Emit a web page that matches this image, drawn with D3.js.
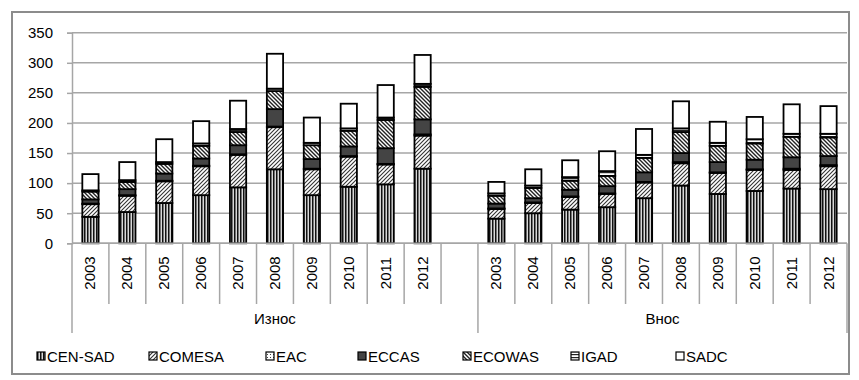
<!DOCTYPE html>
<html>
<head>
<meta charset="utf-8">
<script src="https://cdn.jsdelivr.net/npm/d3@7"></script>
<style>
body { margin: 0; background: #fff; }
text { font-family: Arial, "Liberation Sans", sans-serif; fill: #000; }
</style>
</head>
<body>
<svg width="859" height="380"></svg>
<script>
// chart values (millions)
const years = ["2003", "2004", "2005", "2006", "2007", "2008", "2009", "2010", "2011", "2012"];
const groups = ["Износ", "Внос"];
const seriesNames = ["CEN-SAD", "COMESA", "EAC", "ECCAS", "ECOWAS", "IGAD", "SADC"];

// Износ
const cenSadExp = [44, 52, 67, 80, 93, 123, 80, 94, 98, 124];
const comesaExp = [21, 27, 36, 48, 54, 70, 43, 50, 33, 55];
const eacExp    = [1, 1, 1, 1, 1, 1, 1, 1, 1, 2];
const eccasExp  = [7, 10, 12, 12, 15, 29, 16, 16, 26, 25];
const ecowasExp = [13, 12, 16, 21, 22, 30, 23, 26, 47, 54];
const igadExp   = [2, 3, 3, 4, 5, 4, 4, 4, 4, 5];
const sadcExp   = [27, 30, 38, 37, 47, 58, 42, 41, 54, 48];

// Внос
const cenSadImp = [41, 50, 56, 60, 75, 96, 82, 87, 91, 90];
const comesaImp = [16, 17, 21, 22, 26, 37, 35, 35, 31, 38];
const eacImp    = [1, 1, 1, 1, 1, 2, 1, 1, 2, 2];
const eccasImp  = [8, 7, 11, 12, 16, 15, 17, 16, 19, 15];
const ecowasImp = [13, 17, 15, 17, 24, 35, 27, 27, 34, 31];
const igadImp   = [4, 4, 6, 8, 5, 6, 5, 7, 5, 6];
const sadcImp   = [19, 27, 28, 33, 43, 45, 35, 37, 49, 46];

const yTicks = [0, 50, 100, 150, 200, 250, 300, 350];

let svg = d3.select("svg");

let expSeries = [cenSadExp, comesaExp, eacExp, eccasExp, ecowasExp, igadExp, sadcExp];
let impSeries = [cenSadImp, comesaImp, eacImp, eccasImp, ecowasImp, igadImp, sadcImp];

// rows: one per category, with a blank one closing the first group
let rows = [];
years.forEach((yr, i) => {
    let r = { key: groups[0] + "|" + yr, year: yr };
    seriesNames.forEach((s, j) => r[s] = expSeries[j][i]);
    rows.push(r);
});
rows.push({ key: groups[0] + "|", year: "" });
years.forEach((yr, i) => {
    let r = { key: groups[1] + "|" + yr, year: yr };
    seriesNames.forEach((s, j) => r[s] = impSeries[j][i]);
    rows.push(r);
});
let dataRows = rows.filter(r => r.year !== "");

let plot = { left: 72, right: 847, top: 32.7, bottom: 243.3 };

let x = d3.scaleBand()
    .domain(rows.map(r => r.key))
    .range([plot.left, plot.right])
    .padding(0);

let y = d3.scaleLinear()
    .domain([0, 350])
    .range([plot.bottom, plot.top]);

// patterns
let defs = svg.append("defs");

function pattern(id, w, h, draw) {
    let p = defs.append("pattern")
        .attr("id", id)
        .attr("patternUnits", "userSpaceOnUse")
        .attr("width", w)
        .attr("height", h);
    draw(p);
}

pattern("pCen", 3, 3, p => {
    p.append("rect").attr("width", 3).attr("height", 3).attr("fill", "#d8d8d8");
    p.append("rect").attr("width", 1.5).attr("height", 3).attr("fill", "#111");
});
pattern("pCom", 4, 4, p => {
    p.append("rect").attr("width", 4).attr("height", 4).attr("fill", "#fff");
    p.append("path").attr("d", "M-1,1 L1,-1 M0,4 L4,0 M3,5 L5,3")
        .attr("stroke", "#333").attr("stroke-width", 1.1);
});
pattern("pEac", 3, 3, p => {
    p.append("rect").attr("width", 3).attr("height", 3).attr("fill", "#fff");
    p.append("rect").attr("x", 1).attr("y", 1).attr("width", 1).attr("height", 1).attr("fill", "#444");
});
pattern("pEco", 4, 4, p => {
    p.append("rect").attr("width", 4).attr("height", 4).attr("fill", "#fff");
    p.append("path").attr("d", "M0,0 L4,4 M-1,3 L1,5 M3,-1 L5,1")
        .attr("stroke", "#222").attr("stroke-width", 1.4);
});
pattern("pIgad", 3, 3, p => {
    p.append("rect").attr("width", 3).attr("height", 3).attr("fill", "#fff");
    p.append("rect").attr("y", 1).attr("width", 3).attr("height", 1.2).attr("fill", "#222");
});

let fills = {
    "CEN-SAD": "url(#pCen)",
    "COMESA": "url(#pCom)",
    "EAC": "url(#pEac)",
    "ECCAS": "#444",
    "ECOWAS": "url(#pEco)",
    "IGAD": "url(#pIgad)",
    "SADC": "#fff"
};

// outer frame
svg.append("rect")
    .attr("x", 12).attr("y", 12)
    .attr("width", 837).attr("height", 362)
    .attr("fill", "none")
    .attr("stroke", "#8c8c8c")
    .attr("stroke-width", 2);

// gridlines
svg.append("g")
    .selectAll("line")
    .data(yTicks)
    .enter()
    .append("line")
    .attr("x1", plot.left).attr("x2", plot.right)
    .attr("y1", d => y(d)).attr("y2", d => y(d))
    .attr("stroke", "#a6a6a6")
    .attr("stroke-width", 1.5);

// y axis
let yAxis = svg.append("g")
    .attr("transform", "translate(" + plot.left + ",0)")
    .call(d3.axisLeft(y).tickValues(yTicks).tickSize(5).tickPadding(14));
yAxis.select(".domain").attr("stroke", "#a6a6a6").attr("stroke-width", 1.5);
yAxis.selectAll(".tick line").attr("stroke", "#a6a6a6").attr("stroke-width", 1.5);
yAxis.selectAll("text").style("font-size", "15px").style("font-family", "Arial, 'Liberation Sans', sans-serif").attr("fill", "#000");

// stacked bars
let stack = d3.stack().keys(seriesNames);
let layers = stack(dataRows);
let barW = x.bandwidth() * 0.44;

svg.append("g")
    .selectAll("g")
    .data(layers)
    .enter()
    .append("g")
    .attr("fill", d => fills[d.key])
    .selectAll("rect")
    .data(d => d)
    .enter()
    .append("rect")
    .attr("x", d => x(d.data.key) + (x.bandwidth() - barW) / 2)
    .attr("y", d => y(d[1]))
    .attr("width", barW)
    .attr("height", d => y(d[0]) - y(d[1]))
    .attr("stroke", "#000")
    .attr("stroke-width", 1.8);

// category axis: year band + group band
let axisG = svg.append("g");
let bounds = rows.map(r => x(r.key)).concat([plot.right]);
axisG.append("line")
    .attr("x1", plot.left).attr("x2", plot.right)
    .attr("y1", plot.bottom).attr("y2", plot.bottom)
    .attr("stroke", "#a6a6a6").attr("stroke-width", 1.5);
axisG.selectAll(".yt")
    .data(bounds)
    .enter()
    .append("line")
    .attr("x1", d => d).attr("x2", d => d)
    .attr("y1", plot.bottom).attr("y2", 304)
    .attr("stroke", "#a6a6a6").attr("stroke-width", 1.5);

let groupBounds = [plot.left, x(groups[1] + "|" + years[0]), plot.right];
axisG.selectAll(".gt")
    .data(groupBounds)
    .enter()
    .append("line")
    .attr("x1", d => d).attr("x2", d => d)
    .attr("y1", 304).attr("y2", 333)
    .attr("stroke", "#a6a6a6").attr("stroke-width", 1.5);

axisG.selectAll(".yl")
    .data(dataRows)
    .enter()
    .append("text")
    .attr("transform", d => "translate(" + (x(d.key) + x.bandwidth() / 2 + 5) + ",273) rotate(-90)")
    .attr("text-anchor", "middle")
    .style("font-size", "15px")
    .text(d => d.year);

axisG.selectAll(".gl")
    .data(groups)
    .enter()
    .append("text")
    .attr("x", (d, i) => (groupBounds[i] + groupBounds[i + 1]) / 2)
    .attr("y", 324)
    .attr("text-anchor", "middle")
    .style("font-size", "15px")
    .text(d => d);

// legend
let legendX = [37, 149, 266, 358, 463, 571, 676];
let legend = svg.append("g").attr("transform", "translate(0,356)");
seriesNames.forEach((s, i) => {
    let item = legend.append("g").attr("transform", "translate(" + legendX[i] + ",0)");
    item.append("rect")
        .attr("x", 0).attr("y", -4)
        .attr("width", 8).attr("height", 8)
        .attr("fill", fills[s])
        .attr("stroke", "#000")
        .attr("stroke-width", 1.2);
    item.append("text")
        .attr("x", 10).attr("y", 5.5)
        .style("font-size", "15px")
        .text(s);
});
</script>
</body>
</html>
